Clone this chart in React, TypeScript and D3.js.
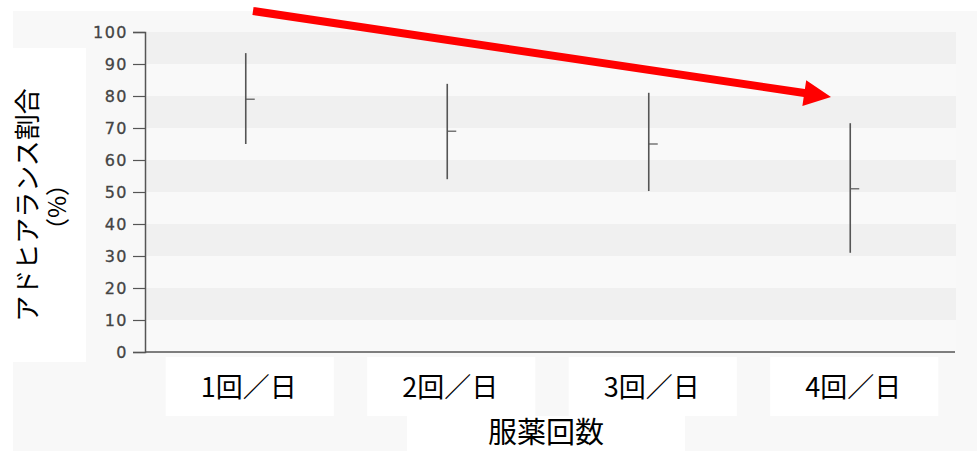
import React, { useEffect, useRef } from 'react';
import * as d3 from 'd3';

// dosing frequency categories and the adherence ranges
const categories: string[] = ['1回／日', '2回／日', '3回／日', '4回／日'];
const highs: number[] = [93.4, 83.8, 81, 71.5];
const lows: number[] = [65, 54, 50.3, 31];
const means: number[] = [79, 69, 65, 51];
const yTicks: number[] = [0, 10, 20, 30, 40, 50, 60, 70, 80, 90, 100];

const W = 977;
const H = 451;

const x_scale = d3.scaleBand<string>().domain(categories).range([145, 951]).padding(0);
const y_scale = d3.scaleLinear().domain([0, 100]).range([352, 32]);

const App = () => {
  const ref = useRef<SVGSVGElement>(null);

  useEffect(() => {
    document.body.style.margin = '0';
    const svg = d3.select(ref.current);
    svg.selectAll('*').remove();

    svg.append('rect').attr('width', W).attr('height', H).attr('fill', '#ffffff');
    // outer light panel
    svg.append('rect')
      .attr('x', 13).attr('y', 11)
      .attr('width', W - 13).attr('height', H - 11)
      .attr('fill', '#f8f8f8');

    // alternating horizontal bands
    const bands = d3.range(0, 100, 10);
    svg.selectAll('band')
      .data(bands)
      .join('rect')
      .attr('x', 145)
      .attr('y', d => y_scale(d + 10))
      .attr('width', 956 - 145)
      .attr('height', d => y_scale(d) - y_scale(d + 10))
      .attr('fill', d => ((d / 10) % 2 === 1 ? '#f0f0f0' : '#f9f9f9'));

    // y axis
    const yAxis = d3.axisLeft(y_scale).tickValues(yTicks).tickSize(12).tickPadding(5);
    const gy = svg.append('g').attr('transform', 'translate(145,0)').call(yAxis);
    gy.select('.domain').attr('stroke', '#555').attr('stroke-width', 1.5);
    gy.selectAll('.tick line').attr('stroke', '#555').attr('stroke-width', 1.2);
    gy.selectAll('.tick text')
      .attr('fill', '#444')
      .attr('font-family', 'DejaVu Sans')
      .attr('font-size', 16)
      .attr('stroke', '#444')
      .attr('stroke-width', 0.3)
      .attr('letter-spacing', 1.5);

    // x axis line
    svg.append('line')
      .attr('x1', 145).attr('x2', 955)
      .attr('y1', y_scale(0)).attr('y2', y_scale(0))
      .attr('stroke', '#555').attr('stroke-width', 1.5);

    const cx = (i: number) => (x_scale(categories[i]) as number) + x_scale.bandwidth() / 2;

    // range bars
    svg.selectAll('rangebar')
      .data(categories)
      .join('line')
      .attr('x1', (d, i) => cx(i))
      .attr('x2', (d, i) => cx(i))
      .attr('y1', (d, i) => y_scale(highs[i]))
      .attr('y2', (d, i) => y_scale(lows[i]))
      .attr('stroke', '#555')
      .attr('stroke-width', 1.6);

    svg.selectAll('meantick')
      .data(categories)
      .join('line')
      .attr('x1', (d, i) => cx(i))
      .attr('x2', (d, i) => cx(i) + 9)
      .attr('y1', (d, i) => y_scale(means[i]))
      .attr('y2', (d, i) => y_scale(means[i]))
      .attr('stroke', '#555')
      .attr('stroke-width', 1.2);

    // white label boxes + category labels
    svg.selectAll('labelbox')
      .data(categories)
      .join('rect')
      .attr('x', (d, i) => cx(i) - 80)
      .attr('y', 357)
      .attr('width', 168)
      .attr('height', 59)
      .attr('fill', '#ffffff');

    svg.selectAll('catlabel')
      .data(categories)
      .join('text')
      .attr('x', (d, i) => cx(i) + 3)
      .attr('y', 397)
      .attr('text-anchor', 'middle')
      .attr('font-family', 'Noto Sans CJK JP')
      .attr('font-size', 27)
      .attr('fill', '#000')
      .text(d => d);

    // x title
    svg.append('rect').attr('x', 407).attr('y', 416).attr('width', 278).attr('height', H - 416).attr('fill', '#fff');
    svg.append('text')
      .attr('x', 546).attr('y', 443)
      .attr('text-anchor', 'middle')
      .attr('font-family', 'Noto Sans CJK JP')
      .attr('font-size', 29)
      .attr('fill', '#000')
      .text('服薬回数');

    // y title
    svg.append('rect').attr('x', 13).attr('y', 48).attr('width', 73).attr('height', 314).attr('fill', '#fff');
    svg.append('text')
      .attr('transform', 'translate(37,205) rotate(-90)')
      .attr('text-anchor', 'middle')
      .attr('font-family', 'Noto Sans CJK JP')
      .attr('font-size', 26)
      .attr('fill', '#000')
      .text('アドヒアランス割合');
    svg.append('text')
      .attr('transform', 'translate(66,207) rotate(-90)')
      .attr('text-anchor', 'middle')
      .attr('font-family', 'Noto Sans CJK JP')
      .attr('font-size', 24)
      .attr('fill', '#000')
      .text('（%）');

    // red trend arrow
    const x0 = 253, y0 = 11, x1 = 831, y1 = 97;
    const ang = Math.atan2(y1 - y0, x1 - x0);
    const headLen = 27, headHalf = 13, shaft = 4;
    const bx = x1 - headLen * Math.cos(ang), by = y1 - headLen * Math.sin(ang);
    const nx = -Math.sin(ang), ny = Math.cos(ang);
    const pts: [number, number][] = [
      [x0 + nx * shaft, y0 + ny * shaft],
      [bx + nx * shaft, by + ny * shaft],
      [bx + nx * headHalf, by + ny * headHalf],
      [x1, y1],
      [bx - nx * headHalf, by - ny * headHalf],
      [bx - nx * shaft, by - ny * shaft],
      [x0 - nx * shaft, y0 - ny * shaft],
    ];
    svg.append('path')
      .attr('d', 'M' + pts.map(p => p.join(',')).join('L') + 'Z')
      .attr('fill', '#ff0000');
  }, []);

  return <svg ref={ref} width={W} height={H} style={{ display: 'block' }} />;
};

export default App;
